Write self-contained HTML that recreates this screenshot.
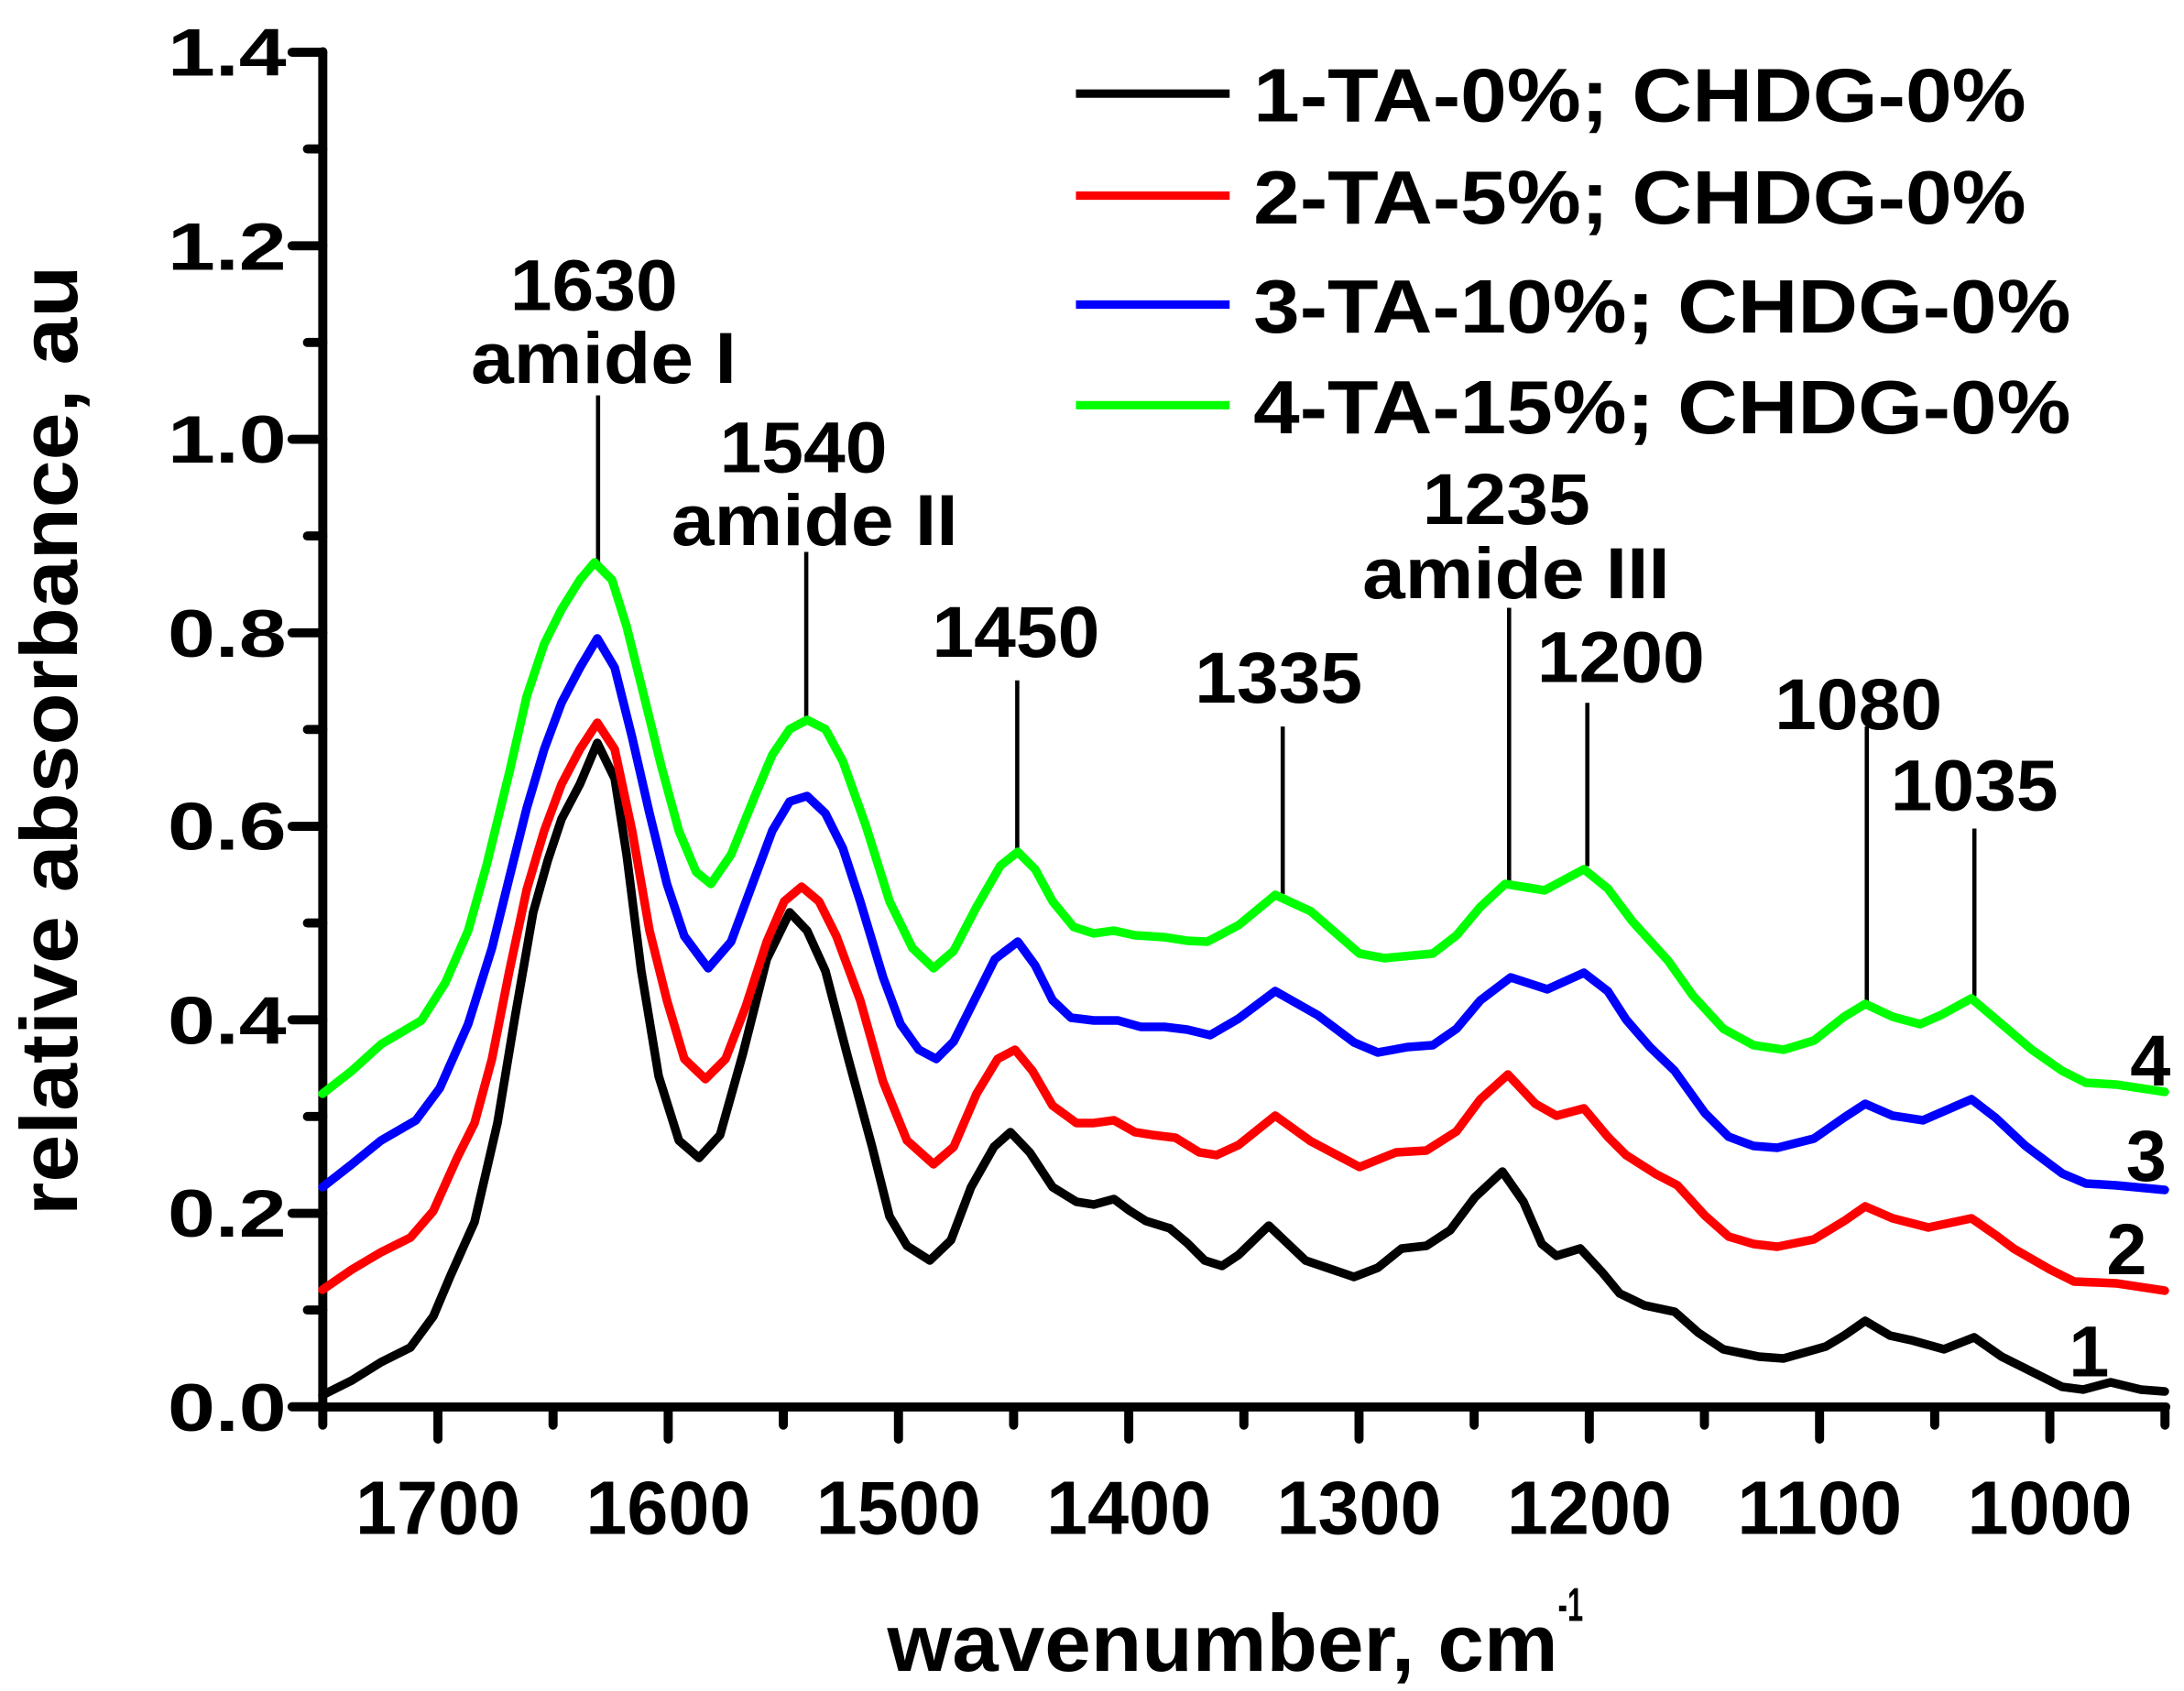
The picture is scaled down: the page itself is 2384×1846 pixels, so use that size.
<!DOCTYPE html>
<html><head><meta charset="utf-8"><style>html,body{margin:0;padding:0;background:#fff}svg{display:block}</style></head>
<body>
<svg width="2384" height="1846" viewBox="0 0 1563 1210.3" xmlns="http://www.w3.org/2000/svg" font-family="Liberation Sans, Arial, sans-serif" font-weight="bold">
<rect width="1563" height="1211" fill="#fff"/>
<g stroke="#000" stroke-width="6.5" stroke-linecap="round" fill="none">
<line x1="231" y1="37" x2="231" y2="1007"/>
<line x1="231" y1="1007" x2="1550" y2="1007"/>
<line x1="209" y1="37.4" x2="231" y2="37.4"/><line x1="209" y1="175.9" x2="231" y2="175.9"/><line x1="209" y1="314.4" x2="231" y2="314.4"/><line x1="209" y1="452.9" x2="231" y2="452.9"/><line x1="209" y1="591.4" x2="231" y2="591.4"/><line x1="209" y1="729.9" x2="231" y2="729.9"/><line x1="209" y1="868.4" x2="231" y2="868.4"/><line x1="209" y1="1006.9" x2="231" y2="1006.9"/>
<line x1="220" y1="106.6" x2="231" y2="106.6"/><line x1="220" y1="245.1" x2="231" y2="245.1"/><line x1="220" y1="383.6" x2="231" y2="383.6"/><line x1="220" y1="522.1" x2="231" y2="522.1"/><line x1="220" y1="660.6" x2="231" y2="660.6"/><line x1="220" y1="799.1" x2="231" y2="799.1"/><line x1="220" y1="937.6" x2="231" y2="937.6"/>
<line x1="313.4" y1="1007" x2="313.4" y2="1030"/><line x1="478.2" y1="1007" x2="478.2" y2="1030"/><line x1="643" y1="1007" x2="643" y2="1030"/><line x1="807.8" y1="1007" x2="807.8" y2="1030"/><line x1="972.6" y1="1007" x2="972.6" y2="1030"/><line x1="1137.4" y1="1007" x2="1137.4" y2="1030"/><line x1="1302.2" y1="1007" x2="1302.2" y2="1030"/><line x1="1467" y1="1007" x2="1467" y2="1030"/>
<line x1="231" y1="1007" x2="231" y2="1020"/><line x1="395.8" y1="1007" x2="395.8" y2="1020"/><line x1="560.6" y1="1007" x2="560.6" y2="1020"/><line x1="725.4" y1="1007" x2="725.4" y2="1020"/><line x1="890.2" y1="1007" x2="890.2" y2="1020"/><line x1="1055" y1="1007" x2="1055" y2="1020"/><line x1="1219.8" y1="1007" x2="1219.8" y2="1020"/><line x1="1384.6" y1="1007" x2="1384.6" y2="1020"/><line x1="1549.4" y1="1007" x2="1549.4" y2="1020"/>
</g>
<g stroke="#000" stroke-width="3" fill="none">
<line x1="428" y1="283" x2="428" y2="403"/><line x1="577" y1="395" x2="577" y2="515"/><line x1="728" y1="487" x2="728" y2="608"/><line x1="918" y1="520" x2="918" y2="640"/><line x1="1080" y1="435" x2="1080" y2="635"/><line x1="1136" y1="503" x2="1136" y2="620"/><line x1="1336" y1="520" x2="1336" y2="718"/><line x1="1413" y1="593" x2="1413" y2="713"/>
</g>
<g transform="scale(0.65562)" fill="none" stroke-width="9.5" stroke-linejoin="round" stroke-linecap="round">
<polyline stroke="#000" points="352,1523 384,1507 416,1487 448,1471 473,1437 492,1392 518,1334 543,1226 562,1111 582,996 598,939 613,894 633,856 652,811 671,850 684,933 700,1060 719,1175 741,1245 763,1264 786,1239 811,1150 837,1047 862,996 881,1016 901,1060 926,1156 952,1252 971,1328 990,1360 1015,1376 1038,1354 1060,1296 1085,1252 1103,1236 1124,1258 1149,1296 1175,1312 1194,1315 1216,1309 1232,1321 1251,1333 1277,1341 1296,1357 1315,1376 1334,1382 1352,1370 1385,1338 1425,1376 1478,1394 1504,1384 1530,1363 1557,1360 1583,1343 1610,1307 1640,1279 1663,1312 1683,1358 1699,1371 1725,1363 1749,1389 1768,1412 1795,1425 1828,1432 1854,1455 1881,1473 1920,1481 1947,1483 1993,1470 2013,1458 2036,1442 2063,1458 2086,1463 2122,1473 2155,1460 2185,1481 2211,1494 2251,1514 2274,1517 2304,1509 2337,1517 2363,1519"/>
<polyline stroke="#f00" points="352,1408 384,1386 416,1367 448,1351 473,1322 499,1264 518,1226 537,1156 556,1060 575,971 594,907 613,856 633,818 652,789 671,818 690,907 709,1016 728,1092 747,1156 770,1178 792,1156 814,1099 837,1028 856,984 875,968 894,984 913,1022 939,1092 964,1181 990,1245 1019,1271 1041,1252 1066,1194 1089,1156 1108,1146 1127,1169 1149,1207 1175,1226 1194,1226 1216,1223 1239,1236 1258,1239 1283,1242 1309,1258 1328,1261 1352,1250 1392,1218 1431,1246 1484,1274 1524,1258 1557,1256 1590,1235 1616,1200 1646,1173 1676,1205 1699,1218 1729,1210 1755,1241 1775,1261 1808,1282 1831,1294 1861,1327 1887,1350 1914,1358 1940,1361 1980,1353 2013,1333 2036,1317 2066,1330 2105,1340 2152,1330 2178,1348 2198,1363 2238,1386 2264,1399 2310,1401 2363,1409"/>
<polyline stroke="#00f" points="352,1296 384,1271 416,1245 454,1223 480,1188 511,1118 537,1035 556,958 575,882 594,818 613,767 633,729 652,697 671,729 690,805 709,888 728,965 747,1022 773,1057 798,1028 824,958 843,907 862,875 881,869 901,888 920,926 939,984 964,1067 983,1118 1003,1146 1022,1156 1041,1137 1060,1099 1086,1047 1111,1028 1130,1054 1149,1092 1169,1111 1194,1114 1220,1114 1245,1121 1271,1121 1296,1124 1321,1130 1352,1112 1392,1082 1438,1108 1478,1138 1504,1149 1537,1143 1564,1141 1590,1123 1616,1092 1649,1067 1689,1080 1729,1062 1755,1082 1775,1113 1801,1143 1828,1169 1861,1215 1887,1241 1914,1251 1940,1253 1980,1243 2013,1220 2036,1205 2066,1218 2099,1223 2152,1200 2178,1220 2211,1251 2251,1281 2277,1292 2310,1294 2363,1299"/>
<polyline stroke="#0f0" points="352,1194 384,1169 416,1140 460,1114 486,1073 511,1016 531,945 556,843 575,760 594,703 613,665 633,633 649,614 668,633 684,684 703,760 722,837 741,907 760,952 776,965 798,933 824,869 843,824 862,796 881,786 901,796 920,831 945,901 971,984 996,1035 1019,1057 1041,1038 1066,990 1092,945 1111,930 1130,949 1149,984 1172,1012 1194,1019 1216,1016 1239,1021 1270,1023 1296,1027 1318,1028 1352,1010 1392,977 1431,995 1484,1041 1511,1046 1564,1041 1590,1021 1616,990 1643,965 1686,972 1729,949 1755,970 1782,1006 1821,1049 1848,1087 1881,1123 1914,1141 1947,1146 1980,1136 2013,1110 2036,1096 2066,1110 2096,1118 2119,1108 2152,1090 2185,1118 2218,1146 2251,1169 2277,1182 2310,1184 2363,1192"/>
</g>
<g stroke-width="6">
<line x1="770" y1="67" x2="880" y2="67" stroke="#000"/>
<line x1="770" y1="140" x2="880" y2="140" stroke="#f00"/>
<line x1="770" y1="218" x2="880" y2="218" stroke="#00f"/>
<line x1="770" y1="290" x2="880" y2="290" stroke="#0f0"/>
</g>
<g font-size="54" fill="#000">
<text x="897" y="87" textLength="553" lengthAdjust="spacingAndGlyphs">1-TA-0%; CHDG-0%</text>
<text x="897" y="160" textLength="553" lengthAdjust="spacingAndGlyphs">2-TA-5%; CHDG-0%</text>
<text x="897" y="238" textLength="585" lengthAdjust="spacingAndGlyphs">3-TA-10%; CHDG-0%</text>
<text x="897" y="310" textLength="585" lengthAdjust="spacingAndGlyphs">4-TA-15%; CHDG-0%</text>
</g>
<g font-size="48" text-anchor="end">
<text x="205" y="54" textLength="85" lengthAdjust="spacingAndGlyphs">1.4</text>
<text x="205" y="193" textLength="85" lengthAdjust="spacingAndGlyphs">1.2</text>
<text x="205" y="331" textLength="85" lengthAdjust="spacingAndGlyphs">1.0</text>
<text x="205" y="470" textLength="85" lengthAdjust="spacingAndGlyphs">0.8</text>
<text x="205" y="608" textLength="85" lengthAdjust="spacingAndGlyphs">0.6</text>
<text x="205" y="747" textLength="85" lengthAdjust="spacingAndGlyphs">0.4</text>
<text x="205" y="885" textLength="85" lengthAdjust="spacingAndGlyphs">0.2</text>
<text x="205" y="1024" textLength="85" lengthAdjust="spacingAndGlyphs">0.0</text>
</g>
<g font-size="54" text-anchor="middle">
<text x="313.4" y="1098" textLength="118" lengthAdjust="spacingAndGlyphs">1700</text>
<text x="478.2" y="1098" textLength="118" lengthAdjust="spacingAndGlyphs">1600</text>
<text x="643" y="1098" textLength="118" lengthAdjust="spacingAndGlyphs">1500</text>
<text x="807.8" y="1098" textLength="118" lengthAdjust="spacingAndGlyphs">1400</text>
<text x="972.6" y="1098" textLength="118" lengthAdjust="spacingAndGlyphs">1300</text>
<text x="1137.4" y="1098" textLength="118" lengthAdjust="spacingAndGlyphs">1200</text>
<text x="1302.2" y="1098" textLength="118" lengthAdjust="spacingAndGlyphs">1100</text>
<text x="1467" y="1098" textLength="118" lengthAdjust="spacingAndGlyphs">1000</text>
</g>
<text x="635" y="1196" font-size="58" textLength="480" lengthAdjust="spacingAndGlyphs">wavenumber, cm</text>
<text x="1115" y="1160" font-size="34" textLength="18" lengthAdjust="spacingAndGlyphs">-1</text>
<text transform="translate(55,530) rotate(-90)" text-anchor="middle" font-size="58" textLength="680" lengthAdjust="spacingAndGlyphs">relative absorbance, au</text>
<g font-size="52" text-anchor="middle">
<text x="425" y="222" textLength="120" lengthAdjust="spacingAndGlyphs">1630</text>
<text x="432" y="274" textLength="190" lengthAdjust="spacingAndGlyphs">amide I</text>
<text x="575" y="338" textLength="120" lengthAdjust="spacingAndGlyphs">1540</text>
<text x="583" y="390" textLength="205" lengthAdjust="spacingAndGlyphs">amide II</text>
<text x="727" y="470" textLength="120" lengthAdjust="spacingAndGlyphs">1450</text>
<text x="915" y="503" textLength="120" lengthAdjust="spacingAndGlyphs">1335</text>
<text x="1078" y="375" textLength="120" lengthAdjust="spacingAndGlyphs">1235</text>
<text x="1085" y="428" textLength="220" lengthAdjust="spacingAndGlyphs">amide III</text>
<text x="1160" y="488" textLength="120" lengthAdjust="spacingAndGlyphs">1200</text>
<text x="1330" y="522" textLength="120" lengthAdjust="spacingAndGlyphs">1080</text>
<text x="1413" y="580" textLength="120" lengthAdjust="spacingAndGlyphs">1035</text>
<text x="1539" y="777">4</text>
<text x="1536" y="845">3</text>
<text x="1522" y="912">2</text>
<text x="1495" y="985">1</text>
</g>
</svg>
</body></html>
